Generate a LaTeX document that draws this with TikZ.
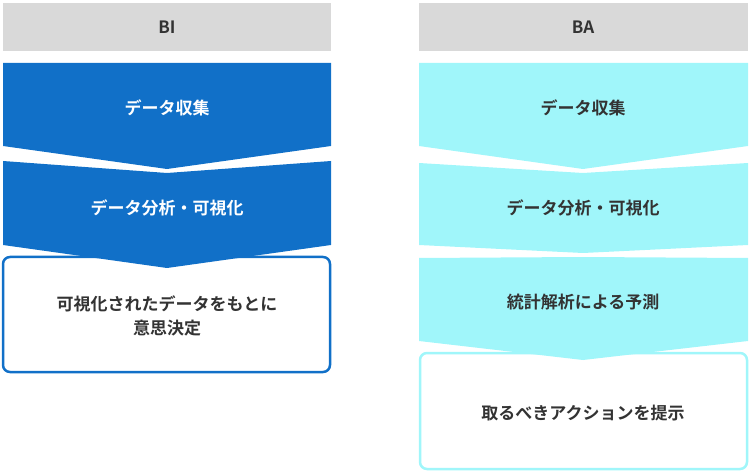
\documentclass[tikz,border=0pt]{standalone}
\usepackage{fontspec}
\setmainfont{Noto Sans CJK JP Bold}
\definecolor{bblue}{HTML}{1170C8}
\definecolor{ccyan}{HTML}{A0F6FA}
\definecolor{hgray}{HTML}{D9D9D9}
\definecolor{txt}{HTML}{333333}
\begin{document}
\begin{tikzpicture}[x=1pt,y=-1pt,
  lbl/.style={font=\fontsize{17}{24}\selectfont,align=center}]
\useasboundingbox (0,0) rectangle (750,473);
\fill[hgray] (3,3) rectangle (331,51);
\fill[hgray] (419,3) rectangle (748,51);
\node[lbl,text=txt] (hbi) at (167,27) {BI};
\node[lbl,text=txt] (hba) at (583,27) {BA};
% left
\draw[bblue,fill=white,line width=2.5pt,rounded corners=7pt] (3,257) rectangle (330,372);
\fill[bblue] (3,63) -- (331,63) -- (331,146) -- (167,169) -- (3,146) -- cycle;
\fill[bblue] (3,161) -- (167,173) -- (331,161) -- (331,245) -- (167,268) -- (3,245) -- cycle;
\node[lbl,text=white] (l1) at (167,108) {データ収集};
\node[lbl,text=white] (l2) at (167,208) {データ分析・可視化};
\node[lbl,text=txt] (l3) at (167,316) {可視化されたデータをもとに\\意思決定};
% right
\draw[ccyan,fill=white,line width=2.5pt,rounded corners=7pt] (420,353) rectangle (747,469);
\fill[ccyan] (419,63) -- (748,63) -- (748,146) -- (583,169) -- (419,146) -- cycle;
\fill[ccyan] (419,163) -- (583,173) -- (748,163) -- (748,245) -- (583,253) -- (419,245) -- cycle;
\fill[ccyan] (419,258) -- (583,257) -- (748,258) -- (748,341) -- (583,360) -- (419,341) -- cycle;
\node[lbl,text=txt] (r1) at (583,108) {データ収集};
\node[lbl,text=txt] (r2) at (583,208) {データ分析・可視化};
\node[lbl,text=txt] (r3) at (583,302) {統計解析による予測};
\node[lbl,text=txt] (r4) at (583,413) {取るべきアクションを提示};
\end{tikzpicture}
\end{document}
